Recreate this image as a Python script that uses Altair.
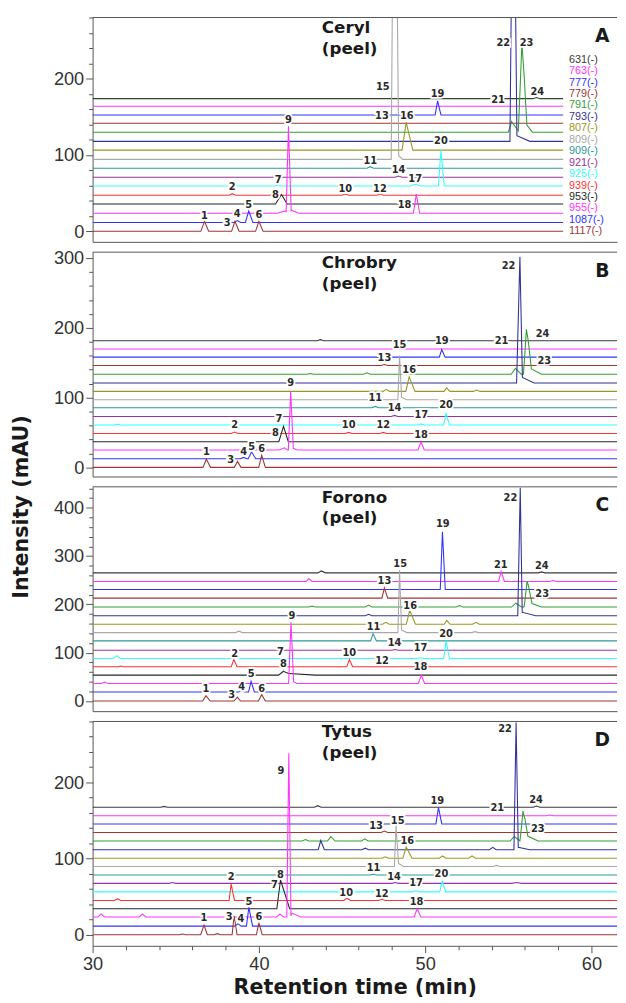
import altair as alt
import pandas as pd

# ---------------- data ----------------
SERIES = ["631", "763", "777", "779", "791", "793", "807", "809",
          "909", "921", "925", "939", "953", "955", "1087", "1117"]
COLORS = ["#3a3a3a", "#ff33ff", "#3333ff", "#a33535", "#33a033", "#333399",
          "#999922", "#a8a8a8", "#2e9999", "#9933a0", "#33ffff", "#ff3333",
          "#262626", "#ff33ff", "#3333ff", "#a33535"]

CULTIVARS = ["Ceryl", "Chrobry", "Forono", "Tytus"]
LETTERS = ["A", "B", "C", "D"]

# baseline offset of each trace (top -> bottom, same order as SERIES)
OFFSETS_A = [174, 164, 152.6, 141.8, 130, 118, 106.5, 94.4, 82.8, 71, 59.5, 47.4, 35.8, 23.7, 11.6, 0]
OFFSETS_B = [181.6, 169.8, 158, 146, 133.5, 121, 108.9, 97, 85.4, 73, 60.8, 48.6, 36.8, 25, 12.3, 0]
OFFSETS_C = [265.3, 247.4, 231, 213, 194.5, 176.6, 158.8, 141.6, 124.4, 105.2, 88, 70.8, 53.6, 36.4, 18.6, 0]
OFFSETS_D = [167.5, 156.3, 145.5, 134.2, 123, 111.7, 100.4, 89.6, 78.4, 67.5, 56.3, 45, 34.2, 23.4, 11.3, 0]

# peaks: series -> [(retention time, height above baseline, left half-width, right half-width)]
PEAKS_A = {
    "631": [(54.4, 1.0, .2, .2), (56.7, 1.5, .2, .2)],
    "777": [(47.4, 1.0, .2, .2), (50.75, 18.5, .15, .2)],
    "791": [(55.2, 14, .2, .45), (55.82, 108.7, .22, .3), (55.95, 14, .3, .5)],
    "793": [(55.3, 450, .2, .22), (55.45, 8, .15, .85)],
    "807": [(48.86, 36.5, .25, .4)],
    "809": [(48.16, 600, .2, .25), (48.35, 6, .05, .3)],
    "909": [(46.7, 2, .2, .2)],
    "921": [(48.4, 1.5, .2, .2)],
    "925": [(41.15, 1.5, .2, .2), (49.4, 2.5, .3, .3), (50.95, 47, .15, .2)],
    "939": [(38.4, 2, .2, .2), (45.2, 1.5, .2, .2), (47.3, 1.5, .2, .2)],
    "953": [(41.36, 12.5, .36, .34)],
    "955": [(41.6, 3, .5, .15), (41.78, 114, .14, .16), (41.95, 4, .1, .45), (49.47, 25, .18, .2)],
    "1087": [(38.7, 2.5, .2, .2), (39.39, 15, .2, .25)],
    "1117": [(36.73, 13, .22, .25), (38.56, 13, .2, .25), (40.0, 13, .2, .25)],
}
PEAKS_B = {
    "631": [(43.7, 1.5, .2, .2)],
    "777": [(51.0, 11, .15, .2)],
    "779": [(47.55, 1.5, .2, .2)],
    "791": [(43.1, 1, .2, .2), (46.5, 2, .2, .2), (55.43, 8.5, .25, .35), (56.09, 60, .18, .3), (56.2, 10, .2, .8)],
    "793": [(55.7, 181, .2, .15), (55.85, 8, .1, .7)],
    "807": [(47.66, 3, .2, .2), (49.04, 21, .2, .35), (51.29, 5, .15, .2), (53.1, 2, .2, .2)],
    "809": [(48.46, 63, .1, .12), (48.55, 4, .1, .35)],
    "909": [(47.0, 2, .2, .2)],
    "921": [(48.16, 1.5, .2, .2)],
    "925": [(31.5, 1, .2, .2), (49.77, 1.5, .2, .2), (51.26, 17, .15, .2)],
    "939": [(38.54, 2, .2, .2), (45.4, 1.5, .2, .2), (47.48, 1.5, .2, .2)],
    "953": [(41.48, 22, .28, .29)],
    "955": [(41.55, 3, .35, .15), (41.91, 83, .14, .16), (42.0, 3, .1, .3), (49.75, 11.7, .18, .2)],
    "1087": [(39.08, 2, .2, .2), (39.56, 10, .2, .25)],
    "1117": [(36.84, 11.8, .2, .25), (38.72, 8.5, .2, .2), (40.17, 17.4, .18, .22)],
}
PEAKS_C = {
    "631": [(43.75, 4, .2, .25), (57.0, 2, .2, .2)],
    "763": [(43.0, 6, .15, .2), (54.57, 20.6, .15, .2), (57.7, 2, .2, .2)],
    "777": [(51.04, 119.5, .13, .17)],
    "779": [(47.55, 21, .15, .2)],
    "791": [(43.2, 2, .2, .2), (46.6, 4, .2, .2), (52.06, 3, .2, .2), (55.45, 8, .25, .35), (56.13, 46.6, .18, .3), (56.2, 10, .2, .8)],
    "793": [(46.6, 3, .2, .2), (55.72, 265, .15, .12), (55.85, 7, .1, .8)],
    "807": [(47.64, 4, .2, .2), (49.07, 29, .2, .35), (51.3, 8, .15, .2), (53.05, 4, .2, .2)],
    "809": [(38.8, 3, .2, .2), (48.46, 128.6, .1, .12), (48.55, 6, .1, .35), (53.0, 2, .2, .2)],
    "909": [(46.87, 15, .15, .2)],
    "921": [(48.2, 1.5, .2, .2)],
    "925": [(31.45, 6, .2, .2), (49.72, 1.5, .2, .2), (51.26, 36.4, .15, .2)],
    "939": [(31.7, 1.5, .15, .15), (38.49, 15, .15, .2), (45.44, 15, .15, .2)],
    "953": [(41.48, 8, .3, .3), (41.8, 3.5, .3, 1.6)],
    "955": [(30.72, 3, .2, .2), (41.93, 125, .14, .16), (42.0, 5, .1, .3), (49.77, 17, .18, .2)],
    "1087": [(38.97, 2, .2, .2), (39.53, 22, .15, .2)],
    "1117": [(36.82, 11, .2, .25), (38.7, 8.2, .2, .2), (40.17, 13, .2, .22)],
}
PEAKS_D = {
    "631": [(34.3, 1, .2, .2), (43.54, 2, .2, .2), (56.7, 1.5, .2, .2)],
    "763": [(57.5, 1, .2, .2)],
    "777": [(50.8, 21.6, .15, .2)],
    "779": [(47.55, 2, .2, .2)],
    "791": [(42.8, 2, .2, .2), (44.33, 6, .2, .25), (46.37, 3, .2, .2), (55.36, 6, .25, .35), (55.88, 36, .18, .3), (56.0, 8, .2, .8)],
    "793": [(43.72, 12, .15, .22), (46.4, 2, .2, .2), (54.07, 3, .2, .2), (55.47, 167, .13, .13), (55.6, 3, .1, .7)],
    "807": [(47.6, 2, .2, .2), (48.86, 14.8, .2, .35), (51.05, 3, .2, .2), (52.82, 3, .2, .2)],
    "809": [(48.25, 53.7, .1, .15), (48.4, 4, .1, .3), (54.3, 1.5, .2, .2)],
    "909": [(46.9, 1, .2, .2)],
    "921": [(34.8, 1, .2, .2), (48.2, 1, .2, .2), (55.5, 1, .3, .3)],
    "925": [(49.45, 1.5, .2, .2), (51.03, 14.3, .15, .2)],
    "939": [(31.5, 2, .2, .2), (38.33, 21.7, .12, .2), (45.3, 3, .2, .2), (47.4, 1.5, .2, .2)],
    "953": [(41.3, 37.7, .22, .55)],
    "955": [(30.52, 4, .2, .2), (33.0, 4, .2, .2), (41.27, 4, .2, .2), (41.8, 215, .12, .13), (42.0, 5, .1, .5), (49.52, 10.8, .18, .22)],
    "1087": [(38.74, 3, .2, .2), (39.4, 24.6, .15, .22)],
    "1117": [(35.4, 1, .2, .2), (36.7, 12.6, .2, .2), (37.5, 1.5, .2, .2), (38.51, 25, .12, .18), (40.0, 15.6, .15, .2)],
}

# peak number labels: (number, time, intensity)
LABELS_A = [(1, 36.73, 20), (2, 38.4, 58), (3, 38.1, 10.8), (4, 38.7, 22.4), (5, 39.39, 34.5),
            (6, 40.0, 21.5), (7, 41.16, 67.7), (8, 41.0, 47.4), (9, 41.78, 146), (10, 45.2, 55.9),
            (11, 46.7, 92), (12, 47.28, 55.9), (13, 47.4, 151.4), (14, 48.4, 80.4), (15, 47.45, 189.7),
            (16, 48.9, 151), (17, 49.4, 69), (18, 48.76, 34.8), (19, 50.75, 179.7), (20, 50.95, 118),
            (21, 54.38, 172.4), (22, 54.7, 247), (23, 56.1, 247), (24, 56.75, 183)]
LABELS_B = [(1, 36.84, 22.6), (2, 38.54, 61), (3, 38.31, 10.8), (4, 39.08, 21.6), (5, 39.56, 29.6),
            (6, 40.17, 26.3), (7, 41.2, 69.6), (8, 41.0, 49.4), (9, 41.91, 121), (10, 45.4, 60.2),
            (11, 47.0, 99.7), (12, 47.48, 60.2), (13, 47.55, 156), (14, 48.16, 84.6), (15, 48.46, 176),
            (16, 49.04, 139.6), (17, 49.77, 75), (18, 49.75, 46), (19, 51.0, 180.5), (20, 51.26, 89),
            (21, 54.6, 180.5), (22, 55.02, 289), (23, 57.17, 152), (24, 57.06, 191.8)]
LABELS_C = [(1, 36.82, 24.7), (2, 38.55, 97), (3, 38.36, 12.4), (4, 38.97, 29.6), (5, 39.53, 55.7),
            (6, 40.17, 24), (7, 41.3, 101.7), (8, 41.48, 76.3), (9, 41.98, 176.6), (10, 45.44, 99),
            (11, 46.9, 153), (12, 47.41, 83.2), (13, 47.55, 247.4), (14, 48.16, 120.3), (15, 48.5, 284),
            (16, 49.1, 197), (17, 49.72, 108.6), (18, 49.72, 69.4), (19, 51.06, 366), (20, 51.26, 139.5),
            (21, 54.55, 281.8), (22, 55.13, 420), (23, 57.04, 220.6), (24, 57.02, 280.4)]
LABELS_D = [(1, 36.7, 21.6), (2, 38.33, 76.2), (3, 38.22, 23), (4, 38.92, 20), (5, 39.4, 43.3),
            (6, 40.0, 23.4), (7, 40.93, 65), (8, 41.3, 78.4), (9, 41.32, 214.7), (10, 45.25, 54.5),
            (11, 46.9, 87.4), (12, 47.39, 53.7), (13, 47.05, 143.3), (14, 48.13, 75.3), (15, 48.35, 149.8),
            (16, 48.93, 123), (17, 49.45, 68.4), (18, 49.48, 43.3), (19, 50.73, 175.8), (20, 50.98, 79.2),
            (21, 54.34, 165.8), (22, 54.81, 270), (23, 56.78, 138.5), (24, 56.67, 177.5)]

Y_DOMAINS = [(-13.8, 280.4), (-13.1, 308.5), (-21.0, 443.4), (-14.5, 280.0)]
Y_TICK_TOP = [280, 300, 440, 280]
TRACE_END = [58.3, 61.8, 61.8, 61.8]
T_START = 30.0
X_MAX = 61.54

PANEL_W = 533
PANEL_H = 228


def build_traces(offsets, peaks, t_end):
    rows = []
    for s, off in zip(SERIES, offsets):
        pk = peaks.get(s, [])
        bps = {T_START, t_end}
        for rt, h, wl, wr in pk:
            bps.update([rt - wl, rt, rt + wr])
        bps = sorted(b for b in bps if T_START <= b <= t_end)
        for k, b in enumerate(bps):
            v = off
            for rt, h, wl, wr in pk:
                if rt - wl <= b <= rt:
                    v += h * (b - (rt - wl)) / wl
                elif rt < b <= rt + wr:
                    v += h * (1 - (b - rt) / wr)
            rows.append({"series": s, "t": b, "v": v, "k": k})
    return pd.DataFrame(rows)


color_scale = alt.Scale(domain=SERIES, range=COLORS)


def make_panel(i, offsets, peaks, labels):
    lo, hi = Y_DOMAINS[i]
    yax_kw = dict(
        values=list(range(0, Y_TICK_TOP[i] + 1, 20)),
        labelExpr="datum.value % 100 === 0 ? datum.label : ''",
        tickSize={"condition": {"test": "datum.value % 100 === 0", "value": 7}, "value": 4},
        grid=False, labelFont="Liberation Sans", labelFontSize=18.5, labelColor="#333333",
        labelPadding=2, labelFlush=False, domainColor="#555555", tickColor="#555555", title=None,
    )
    if i == 2:
        yax_kw.update(title="Intensity (mAU)", titleX=-72, titleY=20, titleAngle=270,
                      titleAlign="center", titleBaseline="middle", titleFont="DejaVu Sans",
                      titleFontSize=21, titleFontWeight="bold", titleColor="#1a1a1a")
    if i == 3:
        xax = alt.Axis(values=list(range(30, 62, 2)),
                       labelExpr="datum.value % 10 === 0 ? datum.label : ''",
                       tickSize={"condition": {"test": "datum.value % 10 === 0", "value": 7}, "value": 4},
                       grid=False, labelFont="Liberation Sans", labelFontSize=18.5,
                       labelColor="#333333", labelPadding=2, labelFlush=False,
                       domainColor="#555555", tickColor="#555555",
                       title="Retention time (min)", titleY=42,
                       titleBaseline="middle", titleFont="DejaVu Sans", titleFontSize=21,
                       titleFontWeight="bold", titleColor="#1a1a1a")
    else:
        xax = alt.Axis(labels=False, ticks=False, grid=False, domainColor="#555555", title=None)

    X = alt.X("t:Q", scale=alt.Scale(domain=[T_START, X_MAX], nice=False, zero=False), axis=xax)
    Y = alt.Y("v:Q", scale=alt.Scale(domain=[lo, hi], nice=False, zero=False), axis=alt.Axis(**yax_kw))

    df = build_traces(offsets, peaks, TRACE_END[i])
    lines = alt.Chart(df).mark_line(strokeWidth=1.1, clip=True).encode(
        x=X, y=Y,
        color=alt.Color("series:N", scale=color_scale, legend=None),
        detail="series:N", order="k:Q",
    )

    lab = pd.DataFrame(labels, columns=["n", "t", "v"])
    txt_kw = dict(font="DejaVu Sans", fontSize=10, fontWeight="bold", align="center", baseline="middle")
    halo = alt.Chart(lab).mark_text(color="white", stroke="white", strokeWidth=3.5, **txt_kw).encode(
        x=X, y=Y, text="n:N")
    nums = alt.Chart(lab).mark_text(color="#2a2a2a", **txt_kw).encode(x=X, y=Y, text="n:N")

    one = pd.DataFrame({"s": [CULTIVARS[i] + "\n(peel)"], "l": [LETTERS[i]]})
    title = alt.Chart(one).mark_text(align="left", baseline="top", lineBreak="\n", lineHeight=21,
                                     font="DejaVu Sans", fontSize=17, fontWeight="bold",
                                     color="#1a1a1a").encode(x=alt.value(233), y=alt.value(3), text="s:N")
    letter = alt.Chart(one).mark_text(align="center", baseline="middle", font="DejaVu Sans",
                                      fontSize=19, fontWeight="bold", color="#1a1a1a").encode(
        x=alt.value(518), y=alt.value(19), text="l:N")
    top = alt.Chart(one).mark_rule(color="#555555", strokeWidth=1).encode(y=alt.value(0))

    layers = [lines, halo, nums, title, letter, top]
    if i == 0:
        leg = pd.DataFrame({"series": SERIES,
                            "lab": [s + "(-)" for s in SERIES],
                            "v": [225 - 15 * k for k in range(len(SERIES))],
                            "t": [58.65] * len(SERIES)})
        legend = alt.Chart(leg).mark_text(align="left", baseline="middle", font="Liberation Sans",
                                          fontSize=11).encode(
            x=X, y=Y, text="lab:N",
            color=alt.Color("series:N", scale=color_scale, legend=None))
        layers.append(legend)
    return alt.layer(*layers).properties(width=PANEL_W, height=PANEL_H)


panels = [
    make_panel(0, OFFSETS_A, PEAKS_A, LABELS_A),
    make_panel(1, OFFSETS_B, PEAKS_B, LABELS_B),
    make_panel(2, OFFSETS_C, PEAKS_C, LABELS_C),
    make_panel(3, OFFSETS_D, PEAKS_D, LABELS_D),
]

chart = alt.vconcat(*panels, spacing=10.5, bounds="flush").properties(
    padding={"left": 2, "top": 0.5, "right": 0, "bottom": 0},
    background="white",
).configure_view(stroke=None)

chart.save("out.html", embed_options={"renderer": "svg", "actions": False})
